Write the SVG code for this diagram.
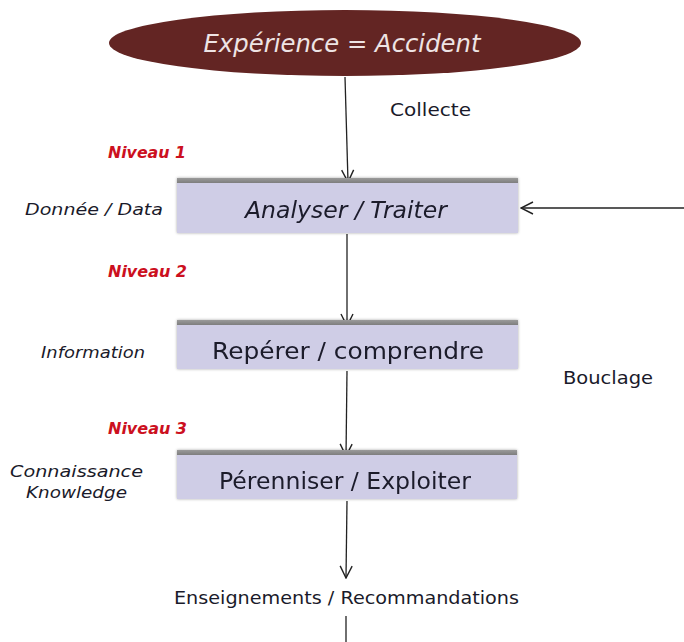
<svg xmlns="http://www.w3.org/2000/svg" width="684" height="642" viewBox="0 0 684 642">
<defs>
<style>
.t{font-family:"DejaVu Sans","Liberation Sans",sans-serif;fill:#1a1a2a}
.i{font-style:italic}
.lvl{font-family:"DejaVu Sans","Liberation Sans",sans-serif;font-style:italic;font-weight:bold;font-size:15px;fill:#cc1020}
.box{fill:#cfcde6}
.top{fill:#8e8e8e}
.c{fill:none;stroke:#222;stroke-width:1.3}
</style>
<marker id="ah" viewBox="0 0 14 14" refX="13" refY="7" markerWidth="14" markerHeight="14" markerUnits="userSpaceOnUse" orient="auto">
<path d="M1,1 L13,7 L1,13" fill="none" stroke="#222" stroke-width="1.4"/>
</marker>
<filter id="sh" x="-5%" y="-20%" width="110%" height="140%">
<feGaussianBlur in="SourceAlpha" stdDeviation="1.5"/>
<feComponentTransfer><feFuncA type="linear" slope="0.35"/></feComponentTransfer>
<feMerge><feMergeNode/><feMergeNode in="SourceGraphic"/></feMerge>
</filter>
<linearGradient id="tg" x1="0" y1="0" x2="0" y2="1">
<stop offset="0" stop-color="#9a9a9a"/>
<stop offset="1" stop-color="#7e7e7e"/>
</linearGradient>
</defs>
<rect width="684" height="642" fill="#fff"/>

<g id="connectors">
<path class="c" d="M345,77 L348,182" marker-end="url(#ah)"/>
<path class="c" d="M347,234 L347,326" marker-end="url(#ah)"/>
<path class="c" d="M347,371 L346,456" marker-end="url(#ah)"/>
<path class="c" d="M347,501 L346,578" marker-end="url(#ah)"/>
<path class="c" d="M686,208 L521,208" marker-end="url(#ah)"/>
<path class="c" d="M346,616 L346,642"/>
</g>

<g id="experience">
<ellipse cx="345" cy="43" rx="236" ry="33" fill="#632523"/>
<text class="t i" x="342" y="52" font-size="25" text-anchor="middle" textLength="277" lengthAdjust="spacingAndGlyphs" style="fill:#eee4e4">Expérience = Accident</text>
</g>

<g id="collecte"><text class="t" x="390" y="116" font-size="17" textLength="81" lengthAdjust="spacingAndGlyphs">Collecte</text></g>

<g id="niveau1"><text class="lvl" x="108" y="158" textLength="78" lengthAdjust="spacingAndGlyphs">Niveau 1</text></g>
<g id="donnee"><text class="t i" x="25" y="215" font-size="15.5" textLength="138" lengthAdjust="spacingAndGlyphs">Donnée / Data</text></g>

<g id="analyser" filter="url(#sh)">
<rect class="box" x="177" y="178" width="341" height="55"/>
<rect x="177" y="178" width="341" height="5" fill="url(#tg)"/>
<text class="t i" x="245" y="218" font-size="23" textLength="202" lengthAdjust="spacingAndGlyphs">Analyser / Traiter</text>
</g>

<g id="niveau2"><text class="lvl" x="108" y="277" textLength="79" lengthAdjust="spacingAndGlyphs">Niveau 2</text></g>

<g id="information"><text class="t i" x="41" y="358" font-size="15.5" textLength="104" lengthAdjust="spacingAndGlyphs">Information</text></g>

<g id="reperer" filter="url(#sh)">
<rect class="box" x="177" y="320" width="341" height="49"/>
<rect x="177" y="320" width="341" height="5" fill="url(#tg)"/>
<text class="t" x="212" y="359" font-size="23" textLength="272" lengthAdjust="spacingAndGlyphs">Repérer / comprendre</text>
</g>

<g id="bouclage"><text class="t" x="563" y="384" font-size="17" textLength="90" lengthAdjust="spacingAndGlyphs">Bouclage</text></g>

<g id="niveau3"><text class="lvl" x="108" y="434" textLength="79" lengthAdjust="spacingAndGlyphs">Niveau 3</text></g>

<g id="connaissance">
<text class="t i" x="10" y="477" font-size="15.5" textLength="133" lengthAdjust="spacingAndGlyphs">Connaissance</text>
<text class="t i" x="26" y="498" font-size="15.5" textLength="101" lengthAdjust="spacingAndGlyphs">Knowledge</text>
</g>

<g id="perenniser" filter="url(#sh)">
<rect class="box" x="177" y="450" width="340" height="49"/>
<rect x="177" y="450" width="340" height="5" fill="url(#tg)"/>
<text class="t" x="219" y="489" font-size="23" textLength="252" lengthAdjust="spacingAndGlyphs">Pérenniser / Exploiter</text>
</g>

<g id="enseignements"><text class="t" x="174" y="604" font-size="18" textLength="345" lengthAdjust="spacingAndGlyphs">Enseignements / Recommandations</text></g>
</svg>
